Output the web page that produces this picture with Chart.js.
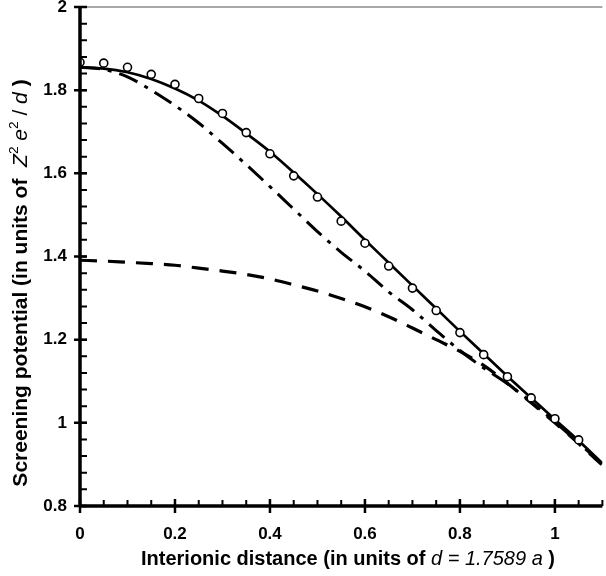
<!DOCTYPE html>
<html lang="en">
<head>
  <meta charset="UTF-8" />
  <title>Screening potential</title>
  <script src="https://cdn.jsdelivr.net/npm/chart.js"></script>
  <style>
    html, body {
      margin: 0;
      padding: 0;
      background: #fff;
      overflow: hidden;
    }
    .chart-box {
      width: 608px;
      height: 576px;
    }
  </style>
</head>
<body>

<div class="chart-box">
  <canvas id="grafico" width="608" height="576"></canvas>
</div>

<script>
  // distances (units of d)
  const distancias = [0, 0.05, 0.1, 0.15, 0.2, 0.25, 0.3, 0.35, 0.4, 0.45, 0.5, 0.55,
                      0.6, 0.65, 0.7, 0.75, 0.8, 0.85, 0.9, 0.95, 1.0, 1.05, 1.1];

  // open circles (simulation points), x = 0 .. 1.05
  const pontosX = [0, 0.05, 0.1, 0.15, 0.2, 0.25, 0.3, 0.35, 0.4, 0.45, 0.5,
                   0.55, 0.6, 0.65, 0.7, 0.75, 0.8, 0.85, 0.9, 0.95, 1.0, 1.05];
  const pontosY = [1.867, 1.865, 1.855, 1.838, 1.814, 1.780, 1.744, 1.698, 1.647, 1.594, 1.543,
                   1.485, 1.432, 1.377, 1.324, 1.270, 1.217, 1.164, 1.111, 1.060, 1.010, 0.959];

  // solid curve
  const curvaSolida = [1.855, 1.852, 1.843, 1.827, 1.804, 1.775, 1.738, 1.696, 1.652, 1.602, 1.550, 1.496,
                       1.440, 1.385, 1.330, 1.275, 1.220, 1.166, 1.112, 1.060, 1.008, 0.957, 0.903];

  // dash-dot curve
  const curvaTracoPonto = [1.855, 1.850, 1.832, 1.800, 1.763, 1.721, 1.672, 1.621, 1.568, 1.514, 1.460, 1.410,
                           1.365, 1.315, 1.272, 1.222, 1.174, 1.132, 1.094, 1.050, 1.002, 0.952, 0.900];

  // dashed curve
  const curvaTracejada = [1.391, 1.389, 1.386, 1.383, 1.379, 1.372, 1.365, 1.357, 1.346, 1.332, 1.317, 1.299,
                          1.279, 1.255, 1.228, 1.200, 1.172, 1.138, 1.095, 1.048, 1.000, 0.950, 0.898];

  // tick labels
  const xTicks = [0, 0.2, 0.4, 0.6, 0.8, 1];
  const yTicks = [0.8, 1, 1.2, 1.4, 1.6, 1.8, 2];
  const xMinorStep = 0.05;
  const yMinorStep = 0.04;

  // axis titles, split into styled runs
  const tituloX = [
    { t: 'Interionic distance (in units of ', s: 'b' },
    { t: 'd = 1.7589 a', s: 'i' },
    { t: ' )', s: 'b' }
  ];
  const tituloY = [
    { t: 'Screening potential (in units of  ', s: 'b' },
    { t: 'Z', s: 'i' },
    { t: '2', s: 'sup' },
    { t: ' e', s: 'i' },
    { t: '2', s: 'sup' },
    { t: ' / ', s: 'r' },
    { t: 'd', s: 'i' },
    { t: ' )', s: 'b' }
  ];

  const FONTE = '"Liberation Sans", Arial, sans-serif';

  function fonteRun(s, tam) {
    if (s === 'b') return 'bold ' + tam + 'px ' + FONTE;
    if (s === 'i') return 'italic ' + tam + 'px ' + FONTE;
    if (s === 'sup') return (tam * 0.65).toFixed(1) + 'px ' + FONTE;
    return tam + 'px ' + FONTE;
  }

  function larguraRuns(ctx, runs, tam) {
    let w = 0;
    runs.forEach(r => { ctx.font = fonteRun(r.s, tam); w += ctx.measureText(r.t).width; });
    return w;
  }

  function desenhaRuns(ctx, runs, cx, tam) {
    let x = cx - larguraRuns(ctx, runs, tam) / 2;
    runs.forEach(r => {
      ctx.font = fonteRun(r.s, tam);
      const dy = r.s === 'sup' ? -tam * 0.42 : 0;
      ctx.fillText(r.t, x, dy);
      x += ctx.measureText(r.t).width;
    });
  }

  // axes, ticks, top border and titles
  const eixosPlugin = {
    id: 'eixos',
    afterDraw(chart) {
      const ctx = chart.ctx;
      const area = chart.chartArea;
      const xs = chart.scales.x;
      const ys = chart.scales.y;
      ctx.save();

      // top border (light gray)
      ctx.strokeStyle = '#a8a8a8';
      ctx.lineWidth = 2;
      ctx.beginPath();
      ctx.moveTo(area.left + 6, area.top);
      ctx.lineTo(area.right, area.top);
      ctx.stroke();

      ctx.strokeStyle = '#000';
      ctx.lineCap = 'butt';

      // minor ticks (inside)
      ctx.lineWidth = 2;
      ctx.beginPath();
      for (let v = xs.min; v <= xs.max + 1e-9; v += xMinorStep) {
        const px = xs.getPixelForValue(v);
        ctx.moveTo(px, area.bottom);
        ctx.lineTo(px, area.bottom - 6);
      }
      for (let v = ys.min; v <= ys.max + 1e-9; v += yMinorStep) {
        const py = ys.getPixelForValue(v);
        ctx.moveTo(area.left, py);
        ctx.lineTo(area.left + 7, py);
      }
      ctx.stroke();

      // major ticks (cross)
      ctx.lineWidth = 2.5;
      ctx.beginPath();
      xTicks.forEach(v => {
        const px = xs.getPixelForValue(v);
        ctx.moveTo(px, area.bottom - 7);
        ctx.lineTo(px, area.bottom + 7);
      });
      yTicks.forEach(v => {
        const py = ys.getPixelForValue(v);
        ctx.moveTo(area.left - 6, py);
        ctx.lineTo(area.left + 7, py);
      });
      ctx.stroke();

      // axis lines
      ctx.lineWidth = 3.5;
      ctx.beginPath();
      ctx.moveTo(area.left, area.top);
      ctx.lineTo(area.left, area.bottom);
      ctx.moveTo(area.left, area.bottom);
      ctx.lineTo(area.right, area.bottom);
      ctx.stroke();

      // titles
      ctx.fillStyle = '#000';
      ctx.textBaseline = 'alphabetic';
      ctx.textAlign = 'left';

      ctx.save();
      ctx.translate(0, 565);
      desenhaRuns(ctx, tituloX, 348, 20);
      ctx.restore();

      ctx.save();
      ctx.translate(27, 283);
      ctx.rotate(-Math.PI / 2);
      desenhaRuns(ctx, tituloY, 0, 21);
      ctx.restore();

      ctx.restore();
    }
  };

  const fmt = v => String(Math.round(v * 10) / 10);

  new Chart(document.getElementById('grafico'), {
    type: 'line',
    data: {
      datasets: [
        {
          label: 'Pontos',
          data: pontosX.map((x, i) => ({ x: x, y: pontosY[i] })),
          showLine: false,
          pointRadius: 4,
          pointBorderWidth: 1.6,
          pointBackgroundColor: '#fff',
          pointBorderColor: '#000'
        },
        {
          label: 'Sólida',
          data: distancias.map((x, i) => ({ x: x, y: curvaSolida[i] })),
          borderColor: '#000',
          borderWidth: 2.7,
          pointRadius: 0,
          cubicInterpolationMode: 'monotone'
        },
        {
          label: 'Traço-ponto',
          data: distancias.map((x, i) => ({ x: x, y: curvaTracoPonto[i] })),
          borderColor: '#000',
          borderWidth: 3,
          borderDash: [20, 8, 4, 8],
          pointRadius: 0,
          cubicInterpolationMode: 'monotone'
        },
        {
          label: 'Tracejada',
          data: distancias.map((x, i) => ({ x: x, y: curvaTracejada[i] })),
          borderColor: '#000',
          borderWidth: 3.2,
          borderDash: [17, 11],
          pointRadius: 0,
          cubicInterpolationMode: 'monotone'
        }
      ]
    },
    options: {
      responsive: false,
      animation: false,
      layout: { padding: 0 },
      plugins: {
        legend: { display: false },
        tooltip: { enabled: false }
      },
      scales: {
        x: {
          type: 'linear',
          min: 0,
          max: 1.1,
          grid: { display: false, drawTicks: false },
          border: { display: false },
          afterBuildTicks: s => { s.ticks = xTicks.map(v => ({ value: v })); },
          afterFit: s => { s.height = 70; s.paddingLeft = 0; s.paddingRight = 0; },
          ticks: {
            padding: 18,
            maxRotation: 0,
            color: '#000',
            font: { family: FONTE, size: 17, weight: 'bold' },
            callback: v => fmt(v)
          }
        },
        y: {
          type: 'linear',
          min: 0.8,
          max: 2,
          grid: { display: false, drawTicks: false },
          border: { display: false },
          afterBuildTicks: s => { s.ticks = yTicks.map(v => ({ value: v })); },
          afterFit: s => { s.width = 80; s.paddingTop = 7; s.paddingBottom = 0; },
          ticks: {
            padding: 13,
            color: '#000',
            font: { family: FONTE, size: 17, weight: 'bold' },
            callback: v => fmt(v)
          }
        }
      }
    },
    plugins: [eixosPlugin]
  });
</script>

</body>
</html>
